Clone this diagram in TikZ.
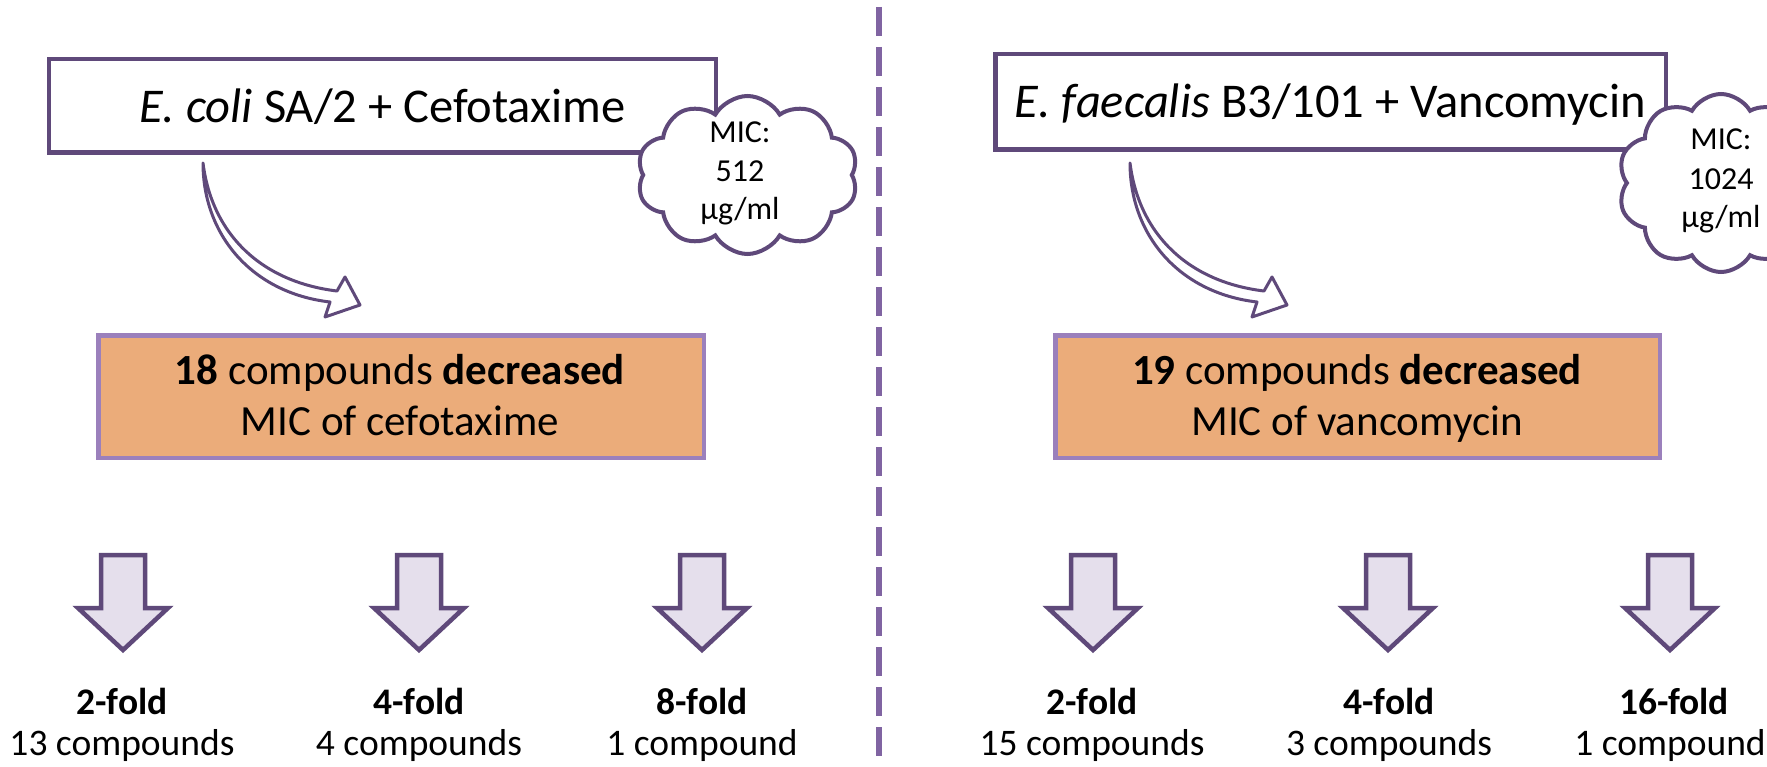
\documentclass[tikz,border=0pt]{standalone}
\usepackage{fontspec}
\setmainfont{Carlito}
\usetikzlibrary{shapes.symbols}
\definecolor{dpurple}{RGB}{95,73,122}
\definecolor{mpurple}{RGB}{128,100,162}
\definecolor{lpurple}{RGB}{155,128,188}
\definecolor{lav}{RGB}{229,223,236}
\definecolor{orangefill}{RGB}{235,172,122}
\tikzset{
  titlebox/.style={draw=dpurple, line width=4.5pt, fill=white, inner sep=0pt},
  orangebox/.style={draw=lpurple, line width=4.5pt, fill=orangefill, inner sep=0pt},
  cloudshape/.style={cloud, cloud puffs=10, cloud puff arc=120, cloud ignores aspect, draw=dpurple, line width=4pt, fill=white, inner sep=0pt},
  downarrowstyle/.style={draw=dpurple, line width=4.5pt, fill=lav, line join=miter},
  curvearrow/.style={draw=dpurple, line width=3pt, fill=white, line join=round},
  dashline/.style={draw=mpurple, line width=5.3pt, dash pattern=on 28.7pt off 11.3pt},
  titletext/.style={font=\fontsize{48.5}{58}\selectfont, anchor=base, inner sep=0pt},
  boxtext/.style={font=\fontsize{43}{51}\selectfont, anchor=base, inner sep=0pt},
  foldtext/.style={font=\fontsize{37.5}{44}\selectfont\bfseries, anchor=base, inner sep=0pt},
  counttext/.style={font=\fontsize{37.5}{44}\selectfont, anchor=base, inner sep=0pt},
  cloudtext/.style={font=\fontsize{32}{38}\selectfont, anchor=base, inner sep=0pt},
  pics/bentarrow/.style={code={
    \draw[curvearrow] (0,0) .. controls (9,72) and (59,119) .. (134,128)
      -- (142,114) -- (157,142) -- (122,154) -- (127,139)
      .. controls (49,130) and (0,72) .. (0,0) -- cycle;}},
  pics/downarr/.style={code={
    \draw[downarrowstyle] (-22,0) -- (22,0) -- (22,53) -- (45,53) -- (0,95)
      -- (-45,53) -- (-22,53) -- cycle;}}
}
\begin{document}
\begin{tikzpicture}[x=1pt,y=-1pt]
\clip (0,0) rectangle (1767,767);
\fill[white] (0,0) rectangle (1767,767);

% divider
\coordinate (divtop) at (879,7);
\coordinate (divbot) at (879,767);
\draw[dashline] (divtop) -- (divbot);

% ---------- left panel ----------
\node[titlebox, minimum width=667pt, minimum height=93.5pt] (ltitle) at (382.5,106) {};
\node[titletext] (ltitletxt) at (382.5,123) {\textit{E. coli} SA/2 + Cefotaxime};
\node[cloudshape, minimum width=221pt, minimum height=158pt] (lcloud) at (747.5,175) {};
\node[cloudtext] (lc1) at (740,143) {MIC:};
\node[cloudtext] (lc2) at (740,182) {512};
\node[cloudtext] (lc3) at (740,220) {µg/ml};
\pic at (203,163) {bentarrow};

\node[orangebox, minimum width=605.5pt, minimum height=122.5pt] (lorange) at (401,396.5) {};
\node[boxtext] (lo1) at (400,384) {\textbf{18} compounds \textbf{decreased}};
\node[boxtext] (lo2) at (400,435) {MIC of cefotaxime};

\pic at (123,555) {downarr};
\pic at (419,555) {downarr};
\pic at (702,555) {downarr};
\node[foldtext] (lf1) at (122,714) {2-fold};
\node[counttext] (ln1) at (122,755) {13 compounds};
\node[foldtext] (lf2) at (419,714) {4-fold};
\node[counttext] (ln2) at (419,755) {4 compounds};
\node[foldtext] (lf3) at (702,714) {8-fold};
\node[counttext] (ln3) at (702,755) {1 compound};

% ---------- right panel ----------
\node[titlebox, minimum width=670.5pt, minimum height=95.5pt] (rtitle) at (1330.5,102) {};
\node[titletext] (rtitletxt) at (1330.5,118) {\textit{E. faecalis} B3/101 + Vancomycin};
\node[cloudshape, minimum width=206pt, minimum height=178pt] (rcloud) at (1721,183) {};
\node[cloudtext] (rc1) at (1721,150) {MIC:};
\node[cloudtext] (rc2) at (1721,190) {1024};
\node[cloudtext] (rc3) at (1721,228) {µg/ml};
\pic at (1130,163) {bentarrow};

\node[orangebox, minimum width=604.5pt, minimum height=122.5pt] (rorange) at (1357.5,396.5) {};
\node[boxtext] (ro1) at (1357,384) {\textbf{19} compounds \textbf{decreased}};
\node[boxtext] (ro2) at (1357,435) {MIC of vancomycin};

\pic at (1093,555) {downarr};
\pic at (1388,555) {downarr};
\pic at (1670,555) {downarr};
\node[foldtext] (rf1) at (1092,714) {2-fold};
\node[counttext] (rn1) at (1092,755) {15 compounds};
\node[foldtext] (rf2) at (1389,714) {4-fold};
\node[counttext] (rn2) at (1389,755) {3 compounds};
\node[foldtext] (rf3) at (1674,714) {16-fold};
\node[counttext] (rn3) at (1670,755) {1 compound};
\end{tikzpicture}
\end{document}
